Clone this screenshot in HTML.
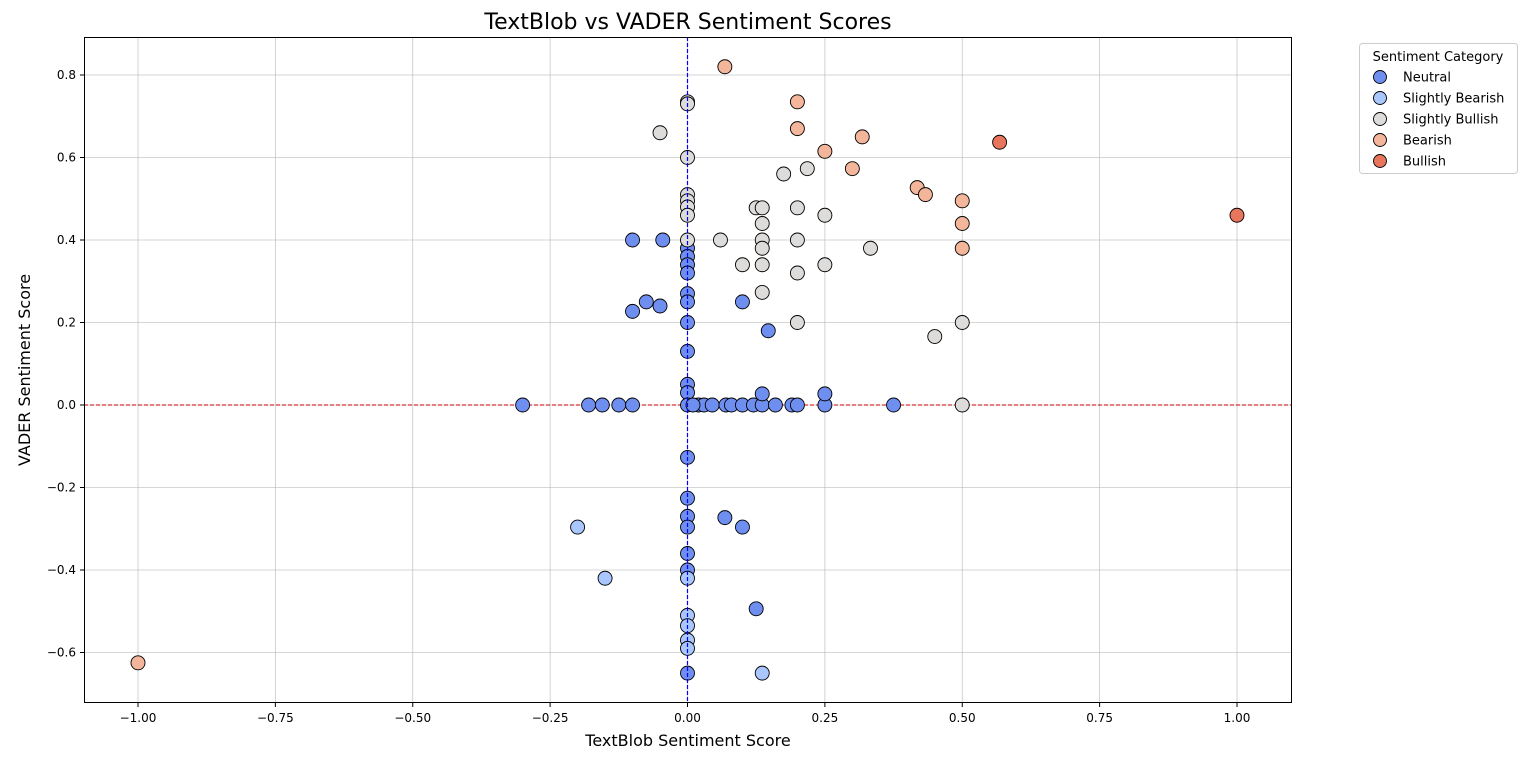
<!DOCTYPE html>
<html><head><meta charset="utf-8"><style>
body{margin:0;background:#fff;font-family:"DejaVu Sans","Liberation Sans",sans-serif}
</style></head><body>
<svg id="chart" width="1536" height="762" xmlns="http://www.w3.org/2000/svg" font-family="DejaVu Sans, Liberation Sans, sans-serif">
<rect width="1536" height="762" fill="#fff"/>
<text x="688" y="29" font-size="22" text-anchor="middle">TextBlob vs VADER Sentiment Scores</text>
<g id="grid"></g>
<g id="ticks"></g>
<g id="refs"></g>
<g id="pts"></g>
<rect x="84.5" y="37.5" width="1207" height="665" fill="none" stroke="#000" stroke-width="1"/>
<text x="688" y="746" font-size="16" text-anchor="middle">TextBlob Sentiment Score</text>
<text transform="translate(30,370) rotate(-90)" font-size="16" text-anchor="middle">VADER Sentiment Score</text>
<g>
<rect x="1359.5" y="43.5" width="158" height="130" rx="3" fill="#fff" stroke="#ccc"/>
<text x="1438" y="61" font-size="13" text-anchor="middle">Sentiment Category</text>
<g id="legend-items"></g>
</g>
</svg>
<script>
const categories=["Neutral","Slightly Bearish","Slightly Bullish","Bearish","Bullish"];
const colors=["#6f8ff0","#aac7fd","#dddcdb","#f4b69b","#e8765d"];
const xTicks=[-1.0,-0.75,-0.5,-0.25,0,0.25,0.5,0.75,1.0];
const yTicks=[-0.6,-0.4,-0.2,0,0.2,0.4,0.6,0.8];
const neutralX=[-0.3,-0.18,-0.155,-0.125,-0.1,-0.1,-0.045,-0.075,-0.1,-0.05,0,0,0,0,0,0,0,0,0,0,0,0,0,0,0,0,0,0,0.1,0.147,0.02,0.03,0.045,0.07,0.08,0.1,0.12,0.136,0.136,0.16,0.19,0.2,0.25,0.25,0.375,0.068,0.1,0.125,0.01];
const neutralY=[0,0,0,0,0,0.40,0.40,0.25,0.227,0.24,0.38,0.36,0.34,0.32,0.27,0.25,0.20,0.13,0.05,0.03,0,-0.127,-0.226,-0.27,-0.296,-0.36,-0.40,-0.65,0.25,0.18,0,0,0,0,0,0,0,0,0.027,0,0,0,0,0.027,0,-0.273,-0.296,-0.494,0];
const sBearX=[-0.2,-0.15,0,0,0,0,0,0.136];
const sBearY=[-0.296,-0.42,-0.42,-0.51,-0.535,-0.57,-0.59,-0.65];
const sBullX=[-0.05,0,0,0,0,0,0,0,0,0.06,0.1,0.125,0.136,0.136,0.136,0.136,0.136,0.136,0.175,0.218,0.2,0.2,0.2,0.2,0.25,0.25,0.333,0.45,0.5,0.5];
const sBullY=[0.66,0.735,0.73,0.60,0.51,0.495,0.48,0.46,0.40,0.40,0.34,0.478,0.478,0.44,0.40,0.38,0.34,0.273,0.56,0.573,0.478,0.40,0.32,0.20,0.46,0.34,0.38,0.166,0.2,0];
const bearX=[-1,0.068,0.2,0.2,0.25,0.318,0.3,0.418,0.433,0.5,0.5,0.5];
const bearY=[-0.625,0.82,0.735,0.67,0.615,0.65,0.573,0.527,0.51,0.495,0.44,0.38];
const bullX=[0.568,1.0];
const bullY=[0.637,0.46];
const NS="http://www.w3.org/2000/svg";
const sx=v=>687.5+v*549.5, sy=v=>405-v*412.5;
const fmt=(v,d)=>(v<0?'\u2212':'')+Math.abs(v).toFixed(d);
function mk(t,a,p){const e=document.createElementNS(NS,t);for(const k in a)e.setAttribute(k,a[k]);p.appendChild(e);return e;}
const grid=document.getElementById('grid'),ticks=document.getElementById('ticks');
xTicks.forEach(v=>{const x=sx(v);
 const g=mk('line',{x1:x,x2:x,y1:37,y2:703,stroke:'#b0b0b0','stroke-opacity':0.7,'stroke-width':0.8},grid);
 
 mk('line',{x1:x,x2:x,y1:703,y2:707,stroke:'#000'},ticks);
 const t=mk('text',{x:x,y:722,'font-size':12,'text-anchor':'middle'},ticks);t.textContent=fmt(v,2);
 });
yTicks.forEach(v=>{const y=sy(v);
 const g=mk('line',{x1:84,x2:1292,y1:y,y2:y,stroke:'#b0b0b0','stroke-opacity':0.7,'stroke-width':0.8},grid);
 
 mk('line',{x1:80,x2:84,y1:y,y2:y,stroke:'#000'},ticks);
 const t=mk('text',{x:76,y:y+4,'font-size':12,'text-anchor':'end'},ticks);t.textContent=fmt(v,1);
 });
const refs=document.getElementById('refs');
const h=mk('line',{x1:84,x2:1292,y1:sy(0),y2:sy(0),stroke:'#cc0000','stroke-dasharray':'4,2','stroke-width':1},refs);

const pts=document.getElementById('pts');
const series=[[neutralX,neutralY],[sBearX,sBearY],[sBullX,sBullY],[bearX,bearY],[bullX,bullY]];
series.forEach((s,i)=>{s[0].forEach((xv,j)=>{
 const c=mk('circle',{cx:sx(xv),cy:sy(s[1][j]),r:7,fill:colors[i],stroke:'#000','stroke-width':0.9},pts);
 
 });});
const v=mk('line',{x1:sx(0),x2:sx(0),y1:37,y2:703,stroke:'#0000ff','stroke-dasharray':'4,2','stroke-width':1.2},pts);

const li=document.getElementById('legend-items');
categories.forEach((c,i)=>{const y=77+i*21;
 const m=mk('circle',{cx:1380,cy:y,r:6.5,fill:colors[i],stroke:'#000','stroke-width':0.9},li);
 
 const t=mk('text',{x:1403,y:y+4.5,'font-size':13},li);t.textContent=c;
 });
</script>
</body></html>
